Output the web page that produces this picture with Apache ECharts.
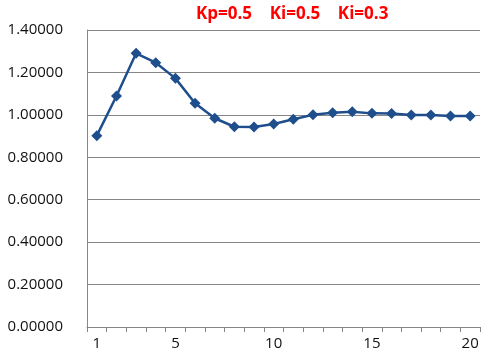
<!DOCTYPE html>
<html><head><meta charset="utf-8">
<script src="https://cdn.jsdelivr.net/npm/echarts@6/dist/echarts.min.js"></script>
<style>html,body{margin:0;padding:0;background:#fff}#c{width:485px;height:359px}</style>
</head><body><div id="c"></div>
<script>
var categories = ['1','2','3','4','5','6','7','8','9','10','11','12','13','14','15','16','17','18','19','20'];
var values = [0.902,1.089,1.290,1.246,1.172,1.055,0.984,0.944,0.943,0.957,0.979,1.000,1.010,1.015,1.007,1.006,0.999,0.999,0.995,0.995];
var yTicks = [0,0.2,0.4,0.6,0.8,1.0,1.2,1.4];
var titleText = 'Kp=0.5    Ki=0.5    Ki=0.3';
var shown = {'1':1,'5':1,'10':1,'15':1,'20':1};
var chart = echarts.init(document.getElementById('c'));
chart.setOption({
  animation:false,
  title:{text:titleText,left:191,top:1,textStyle:{color:'#ff0000',fontSize:17,fontWeight:'bold',fontFamily:'Open Sans'}},
  grid:{left:87,right:5,top:30,bottom:32,containLabel:false},
  xAxis:{type:'category',data:categories,boundaryGap:true,
    axisLine:{show:true,lineStyle:{color:'#868686',width:1}},
    axisTick:{show:true,alignWithLabel:false,interval:0,length:5,lineStyle:{color:'#868686'}},
    axisLabel:{interval:0,color:'#111',fontSize:15,fontFamily:'Open Sans',margin:9,
      formatter:function(v){return shown[v]?v:'';}},
    splitLine:{show:false}},
  yAxis:{type:'value',min:0,max:1.4,interval:0.2,
    axisLine:{show:true,lineStyle:{color:'#868686'}},
    axisTick:{show:false},
    axisLabel:{color:'#111',fontSize:15,fontFamily:'Open Sans',margin:24,
      formatter:function(v){return v.toFixed(5);}},
    splitLine:{show:true,lineStyle:{color:'#868686',width:1}}},
  series:[{type:'line',data:values,symbol:'diamond',symbolSize:11,
    lineStyle:{color:'#1f4e8c',width:2.5},itemStyle:{color:'#1f4e8c'}}]
});
</script></body></html>
